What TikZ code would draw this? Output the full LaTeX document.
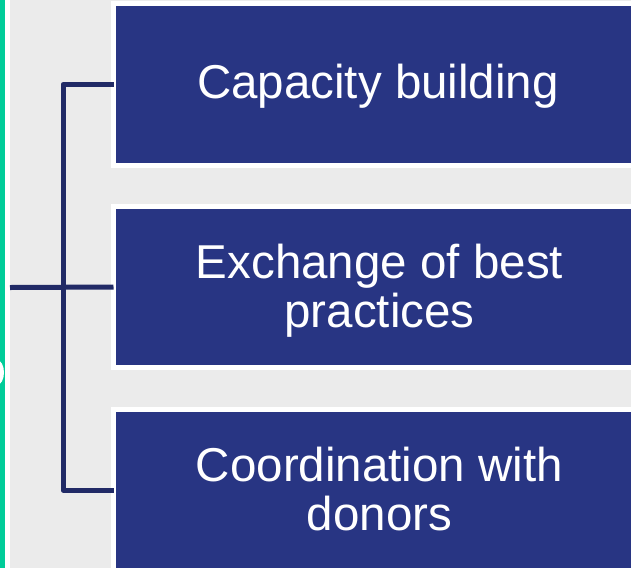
\documentclass[tikz,border=0pt]{standalone}
\usepackage{fontspec}
\setmainfont{Liberation Sans}
\definecolor{bggray}{HTML}{EBEBEB}
\definecolor{boxblue}{HTML}{283583}
\definecolor{connnavy}{HTML}{212A66}
\definecolor{teal}{HTML}{00CC99}
\tikzset{
  boxnode/.style={draw=white, fill=boxblue, line width=5pt, rectangle, outer sep=0pt, inner sep=0pt, minimum width=528pt},
  boxtext/.style={text=white, align=center, inner sep=0pt, font=\fontsize{47.5pt}{49pt}\selectfont},
  conn/.style={draw=connnavy, line width=5pt, line join=round}
}
\begin{document}
\begin{tikzpicture}[x=1pt, y=-1pt]
\useasboundingbox (0,0) rectangle (631,568);
\clip (0,0) rectangle (631,568);
\fill[bggray] (0,0) rectangle (631,568);
\fill[white] (4.5,0) rectangle (10,568);
\fill[teal] (0,0) rectangle (4.5,568);
\fill[white] (-3,372.5) ellipse (7 and 12.5);
\node[boxnode, minimum height=162pt] (b1) at (377.5,84.5) {};
\node[boxnode, minimum height=161pt] (b2) at (377.5,287) {};
\node[boxnode, minimum height=161pt] (b3) at (377.5,490) {};
\node[boxtext, anchor=base] (t1) at (378,98) {Capacity building};
\node[boxtext, anchor=base] (t2) at (379.5,327) {Exchange of best\\practices};
\node[boxtext, anchor=base] (t3) at (379.5,530) {Coordination with\\donors};
\coordinate (hub) at (10,287.5);
\draw[conn] (b1.west) -- ++(-50.5,0) |- (b3.west);
\draw[conn] (hub) -- (b2.west);
\end{tikzpicture}
\end{document}
